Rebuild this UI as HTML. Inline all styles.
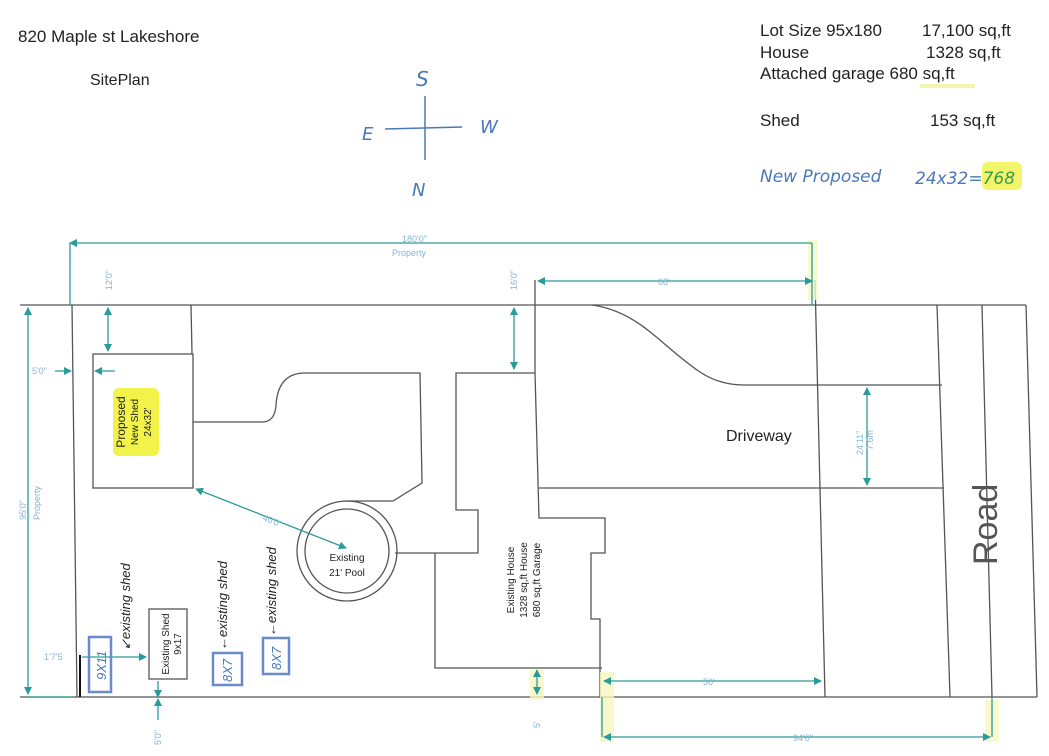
<!DOCTYPE html>
<html><head><meta charset="utf-8"><style>
html,body{margin:0;padding:0;background:#fff}
svg{display:block}
text{font-family:"Liberation Sans",sans-serif}
.hw{font-family:"DejaVu Sans",sans-serif;font-style:italic;fill:#4a78b8}
.dim{fill:#86b4d4;font-size:9px}
</style></head><body>
<svg width="1049" height="756" viewBox="0 0 1049 756" xmlns="http://www.w3.org/2000/svg">
<defs>
<marker id="a" markerWidth="8" markerHeight="8" refX="7" refY="4" orient="auto" markerUnits="userSpaceOnUse"><path d="M0,0 L8,4 L0,8 z" fill="#2a9a9a"/></marker>
<marker id="b" markerWidth="8" markerHeight="8" refX="1" refY="4" orient="auto" markerUnits="userSpaceOnUse"><path d="M8,0 L0,4 L8,8 z" fill="#2a9a9a"/></marker>
</defs>
<rect width="1049" height="756" fill="#fff"/>
<!-- header -->
<text x="18" y="42" font-size="17" fill="#222">820 Maple st Lakeshore</text>
<text x="90" y="85" font-size="16" fill="#222">SitePlan</text>
<g stroke="#4a78b8" stroke-width="1.5" fill="none"><line x1="425" y1="96" x2="425" y2="160"/><line x1="385" y1="129" x2="462" y2="127"/></g>
<text x="416" y="86" class="hw" font-size="20">S</text>
<text x="362" y="140" class="hw" font-size="18">E</text>
<text x="480" y="133" class="hw" font-size="18">W</text>
<text x="412" y="196" class="hw" font-size="18">N</text>
<g font-size="17" fill="#222">
<text x="760" y="36">Lot Size 95x180</text><text x="922" y="36">17,100 sq,ft</text>
<text x="760" y="58">House</text><text x="926" y="58">1328 sq,ft</text>
<text x="760" y="79">Attached garage 680 sq,ft</text>
<text x="760" y="126">Shed</text><text x="930" y="126">153 sq,ft</text>
</g>
<rect x="920" y="84" width="55" height="4" fill="#f4f5b0"/>
<text x="760" y="182" class="hw" font-size="17">New Proposed</text>
<rect x="982" y="162" width="40" height="28" rx="6" fill="#f3f56a"/>
<text x="915" y="184" class="hw" font-size="17">24x32=<tspan fill="#3a9a4a">768</tspan></text>

<!-- site lines -->
<g stroke="#555" stroke-width="1.3" fill="none">
<line x1="20" y1="305" x2="1026" y2="305"/>
<line x1="20" y1="697" x2="1037" y2="697"/>
<line x1="72" y1="305" x2="77" y2="697"/>
<rect x="93" y="354" width="100" height="134"/>
<line x1="191" y1="305" x2="192" y2="354"/>
<path d="M193,422 L262,422 Q275,422 276,405 Q278,373 305,373 L420,373 L422,483 L393,501 L345,501"/>
<circle cx="347" cy="551" r="50"/><circle cx="347" cy="551" r="42"/>
<path d="M395,553 L478,553 L478,510 L456,510 L456,373 L535,373 L535,280"/>
<path d="M435,553 L435,668 L602,668"/>
<path d="M535,373 L539,518 L605,518 L605,553 L591,553 L591,619 L600,619 L600,697"/>
<path d="M592,305 C640,312 660,345 700,372 C715,382 730,385 744,385 L942,385"/>
<line x1="539" y1="488" x2="944" y2="488"/>
<line x1="815" y1="280" x2="825" y2="697"/>
<line x1="937" y1="305" x2="950" y2="697"/>
<line x1="982" y1="305" x2="992" y2="697"/>
<line x1="1026" y1="305" x2="1037" y2="697"/>
<rect x="149" y="609" width="38" height="70"/>
</g>
<line x1="80" y1="655" x2="80" y2="697" stroke="#111" stroke-width="2"/>
<!-- yellow glows -->
<g fill="#f6f8c0" opacity=".8">
<rect x="600" y="672" width="14" height="70"/><rect x="985" y="700" width="14" height="42"/>
<rect x="530" y="670" width="14" height="30"/><rect x="808" y="240" width="10" height="60"/>
</g>
<rect x="113" y="388" width="46" height="68" rx="6" fill="#f2f24a"/>
<!-- dimensions -->
<g stroke="#2a9a9a" stroke-width="1.3" fill="none">
<line x1="70" y1="243" x2="812" y2="243" marker-start="url(#b)"/>
<line x1="70" y1="243" x2="70" y2="305"/><line x1="812" y1="243" x2="812" y2="305"/>
<line x1="28" y1="308" x2="28" y2="694" marker-start="url(#b)" marker-end="url(#a)"/>
<line x1="28" y1="697" x2="72" y2="697"/>
<line x1="108" y1="308" x2="108" y2="351" marker-start="url(#b)" marker-end="url(#a)"/>
<line x1="55" y1="371" x2="71" y2="371" marker-end="url(#a)"/><line x1="115" y1="371" x2="95" y2="371" marker-end="url(#a)"/>
<line x1="514" y1="308" x2="514" y2="369" marker-start="url(#b)" marker-end="url(#a)"/>
<line x1="538" y1="281" x2="812" y2="281" marker-start="url(#b)" marker-end="url(#a)"/>
<line x1="867" y1="388" x2="867" y2="485" marker-start="url(#b)" marker-end="url(#a)"/>
<line x1="604" y1="681" x2="821" y2="681" marker-start="url(#b)" marker-end="url(#a)"/>
<line x1="604" y1="737" x2="990" y2="737" marker-start="url(#b)" marker-end="url(#a)"/>
<line x1="602" y1="697" x2="602" y2="737"/><line x1="992" y1="697" x2="992" y2="737"/>
<line x1="537" y1="670" x2="537" y2="694" marker-start="url(#b)" marker-end="url(#a)"/>
<line x1="196" y1="489" x2="346" y2="548" marker-start="url(#b)" marker-end="url(#a)"/>
<line x1="82" y1="657" x2="146" y2="657" marker-end="url(#a)"/>
<line x1="158" y1="699" x2="158" y2="720" marker-start="url(#b)"/>
<line x1="158" y1="681" x2="158" y2="697" marker-end="url(#a)"/>
</g>
<g class="dim">
<text x="402" y="242">180'0"</text><text x="392" y="256">Property</text>
<text x="658" y="285">68'</text><text x="703" y="685">56'</text><text x="793" y="741">94'0"</text>
<text x="32" y="374">5'0"</text><text x="44" y="660">1'7'5</text>
<text transform="translate(112,290) rotate(-90)">12'0"</text>
<text transform="translate(517,290) rotate(-90)">16'0"</text>
<text transform="translate(161,745) rotate(-90)">5'0"</text>
<text transform="translate(540,728) rotate(-90)">5'</text>
<text transform="translate(863,455) rotate(-90)">24'11"</text>
<text transform="translate(873,450) rotate(-90)">7.6m</text>
<text transform="translate(26,520) rotate(-90)">95'0"</text>
<text transform="translate(40,520) rotate(-90)">Property</text>
<text transform="translate(262,520) rotate(22)">40'0"</text>
</g>
<!-- labels -->
<text x="726" y="441" font-size="16" fill="#222">Driveway</text>
<text transform="translate(997,565) rotate(-90)" font-size="34" fill="#555">Road</text>
<text x="347" y="561" font-size="10" fill="#222" text-anchor="middle">Existing</text>
<text x="347" y="576" font-size="10" fill="#222" text-anchor="middle">21' Pool</text>
<g font-size="10" fill="#222" text-anchor="middle">
<text transform="translate(514,580) rotate(-90)">Existing House</text>
<text transform="translate(527,580) rotate(-90)">1328 sq,ft House</text>
<text transform="translate(540,580) rotate(-90)">680 sq,ft Garage</text>
<text transform="translate(169,644) rotate(-90)">Existing Shed</text>
<text transform="translate(181,644) rotate(-90)">9x17</text>
<text transform="translate(125,422) rotate(-90)" font-size="12">Proposed</text>
<text transform="translate(138,422) rotate(-90)">New Shed</text>
<text transform="translate(151,422) rotate(-90)">24x32'</text>
</g>
<g stroke="#6a8ac8" stroke-width="2.5" fill="none">
<rect x="89" y="637" width="22" height="55"/><rect x="213" y="653" width="29" height="32"/><rect x="263" y="638" width="26" height="36"/>
</g>
<g class="hw" font-size="13">
<text transform="translate(106,680) rotate(-90)">9X11</text>
<text transform="translate(232,682) rotate(-90)">8X7</text>
<text transform="translate(281,670) rotate(-90)">8X7</text>
</g>
<g font-family="DejaVu Sans,sans-serif" font-style="italic" font-size="13" fill="#222">
<text transform="translate(130,650) rotate(-90)">↙existing shed</text>
<text transform="translate(227,650) rotate(-90)">←existing shed</text>
<text transform="translate(276,636) rotate(-90)">←existing shed</text>
</g>
</svg>
</body></html>
